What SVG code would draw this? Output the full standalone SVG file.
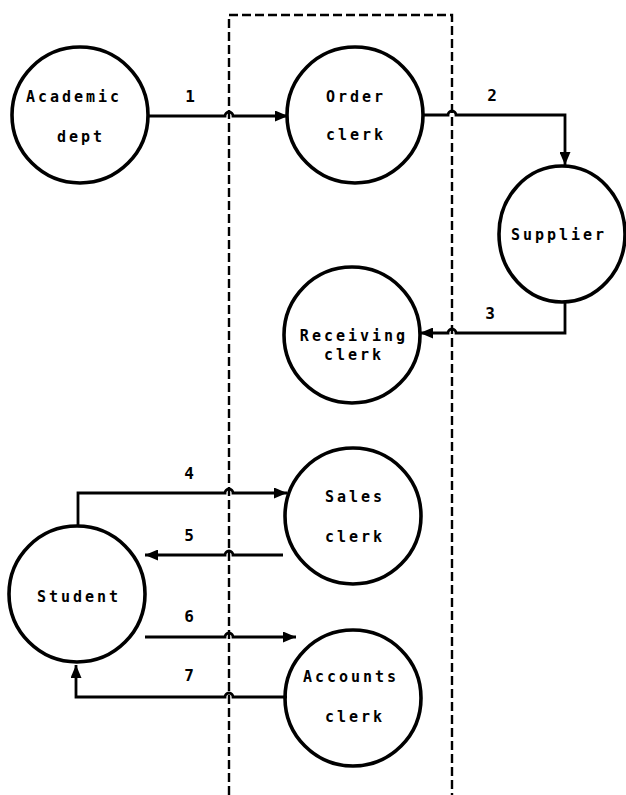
<svg xmlns="http://www.w3.org/2000/svg" width="626" height="795" viewBox="0 0 626 795">
  <style>
    .bubble { fill: none; stroke: #000; stroke-width: 3.6; }
    .label { font-family: "DejaVu Sans Mono", "Liberation Mono", monospace; font-weight: bold; font-size: 15px; letter-spacing: 3px; text-anchor: middle; fill: #000; }
    .num { font-family: "DejaVu Sans Mono", "Liberation Mono", monospace; font-weight: bold; font-size: 16px; text-anchor: middle; fill: #000; }
    .flow { fill: none; stroke: #000; stroke-width: 2.8; stroke-linejoin: miter; }
    .boundary { fill: none; stroke: #000; stroke-width: 2.4; stroke-dasharray: 9 4; }
  </style>
  <defs>
    <marker id="head" viewBox="0 0 13 11" refX="13" refY="5.5" markerWidth="13" markerHeight="11" markerUnits="userSpaceOnUse" orient="auto">
      <path d="M0,0 L13,5.5 L0,11 z" fill="#000"/>
    </marker>
  </defs>

  <rect width="626" height="795" fill="#fff"/>

  <!-- system boundary, open at the bottom -->
  <path class="boundary" d="M229,795 L229,15 L452,15 L452,795"/>

  <!-- data flows; each crossing of the boundary gets a small hop -->
  <g id="flows">
    <path class="flow" marker-end="url(#head)" d="M148,116 L225,116 A4,4 0 0 1 233,116 L288,116"/>
    <path class="flow" marker-end="url(#head)" d="M422,115 L448,115 A4,4 0 0 1 456,115 L565,115 L565,165"/>
    <path class="flow" marker-end="url(#head)" d="M565,302 L565,333 L456,333 A4,4 0 0 0 448,333 L420,333"/>
    <path class="flow" marker-end="url(#head)" d="M78,526 L78,493 L225,493 A4,4 0 0 1 233,493 L287,493"/>
    <path class="flow" marker-end="url(#head)" d="M283,555 L233,555 A4,4 0 0 0 225,555 L145,555"/>
    <path class="flow" marker-end="url(#head)" d="M145,637 L225,637 A4,4 0 0 1 233,637 L296,637"/>
    <path class="flow" marker-end="url(#head)" d="M287,697 L233,697 A4,4 0 0 0 225,697 L76,697 L76,665"/>
    <text class="num" x="190" y="102">1</text>
    <text class="num" x="492" y="101">2</text>
    <text class="num" x="490" y="319">3</text>
    <text class="num" x="189" y="479">4</text>
    <text class="num" x="189" y="541">5</text>
    <text class="num" x="189" y="622">6</text>
    <text class="num" x="189" y="681">7</text>
  </g>

  <g id="academic-dept">
    <circle class="bubble" cx="80" cy="115" r="68"/>
    <text class="label" x="74" y="102">Academic</text>
    <text class="label" x="81" y="142">dept</text>
  </g>

  <g id="order-clerk">
    <circle class="bubble" cx="355" cy="115" r="68"/>
    <text class="label" x="356" y="102">Order</text>
    <text class="label" x="356" y="140">clerk</text>
  </g>

  <g id="supplier">
    <ellipse class="bubble" cx="562" cy="234" rx="63" ry="68"/>
    <text class="label" x="559" y="240">Supplier</text>
  </g>

  <g id="receiving-clerk">
    <circle class="bubble" cx="352" cy="335" r="68"/>
    <text class="label" x="354" y="341">Receiving</text>
    <text class="label" x="354" y="360">clerk</text>
  </g>

  <g id="sales-clerk">
    <circle class="bubble" cx="353" cy="516" r="68"/>
    <text class="label" x="355" y="502">Sales</text>
    <text class="label" x="355" y="542">clerk</text>
  </g>

  <g id="student">
    <circle class="bubble" cx="77" cy="594" r="68"/>
    <text class="label" x="79" y="602">Student</text>
  </g>

  <g id="accounts-clerk">
    <circle class="bubble" cx="353" cy="698" r="68"/>
    <text class="label" x="351" y="682">Accounts</text>
    <text class="label" x="355" y="722">clerk</text>
  </g>
</svg>
